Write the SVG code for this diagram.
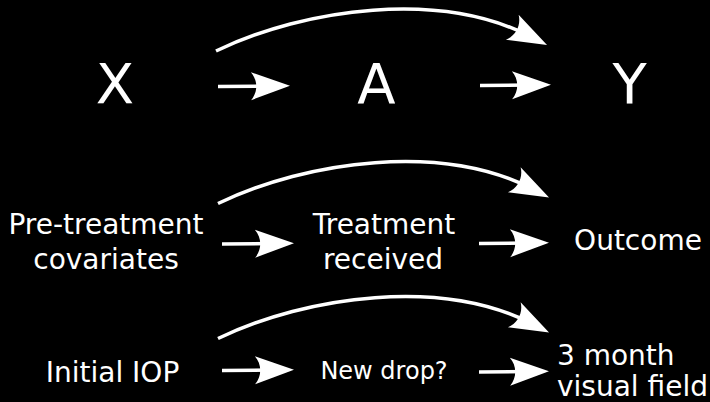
<svg xmlns="http://www.w3.org/2000/svg" width="710" height="402" viewBox="0 0 710 402">
  <style>
    text { font-family: "DejaVu Sans", "Liberation Sans", sans-serif; fill: #ffffff; text-anchor: middle; }
    .big { font-size: 56px; }
    .lab { font-size: 28px; }
    .small { font-size: 24px; }
    .start { text-anchor: start; }
    .conn { fill: none; stroke: #ffffff; stroke-width: 3.5; }
  </style>
  <defs>
    <marker id="ah" markerUnits="userSpaceOnUse" orient="auto" refX="0" refY="0" markerWidth="80" markerHeight="40" viewBox="-25 -20 50 40" overflow="visible">
      <path d="M20,0 L-19,-14 C-12,-6 -12,6 -19,14 Z" fill="#ffffff"/>
    </marker>
  </defs>
  <rect x="0" y="0" width="710" height="402" fill="#000000"/>

  <g id="connectors">
    <path class="conn" d="M216,51 C306,7.6 440.1,-9.5 529.2,35.9" marker-end="url(#ah)"/>
    <path class="conn" d="M218,86.5 L270,86" marker-end="url(#ah)"/>
    <path class="conn" d="M480,85.5 L531,85" marker-end="url(#ah)"/>

    <path class="conn" d="M218,203.5 C308,160.1 442.1,143 531.2,188.4" marker-end="url(#ah)"/>
    <path class="conn" d="M222,244 L274,243.5" marker-end="url(#ah)"/>
    <path class="conn" d="M479,243.5 L529,243" marker-end="url(#ah)"/>

    <path class="conn" d="M218,338.5 C308,295.1 442.1,278 531.2,323.4" marker-end="url(#ah)"/>
    <path class="conn" d="M222,370.5 L274,370" marker-end="url(#ah)"/>
    <path class="conn" d="M479,372 L529,371.5" marker-end="url(#ah)"/>
  </g>

  <g id="node-X"><text class="big" x="115" y="103">X</text></g>
  <g id="node-A"><text class="big" x="376.5" y="103">A</text></g>
  <g id="node-Y"><text class="big" x="629.7" y="103">Y</text></g>

  <g id="node-covariates">
    <text class="lab" x="106" y="234">Pre-treatment</text>
    <text class="lab" x="106" y="269">covariates</text>
  </g>
  <g id="node-treatment">
    <text class="lab" x="384" y="234">Treatment</text>
    <text class="lab" x="383" y="269">received</text>
  </g>
  <g id="node-outcome"><text class="lab" x="638" y="250">Outcome</text></g>

  <g id="node-iop"><text class="lab" x="112.5" y="382">Initial IOP</text></g>
  <g id="node-drop"><text class="small" x="384" y="379">New drop?</text></g>
  <g id="node-field">
    <text class="lab start" x="557" y="365">3 month</text>
    <text class="lab start" x="557" y="396">visual field</text>
  </g>
</svg>
